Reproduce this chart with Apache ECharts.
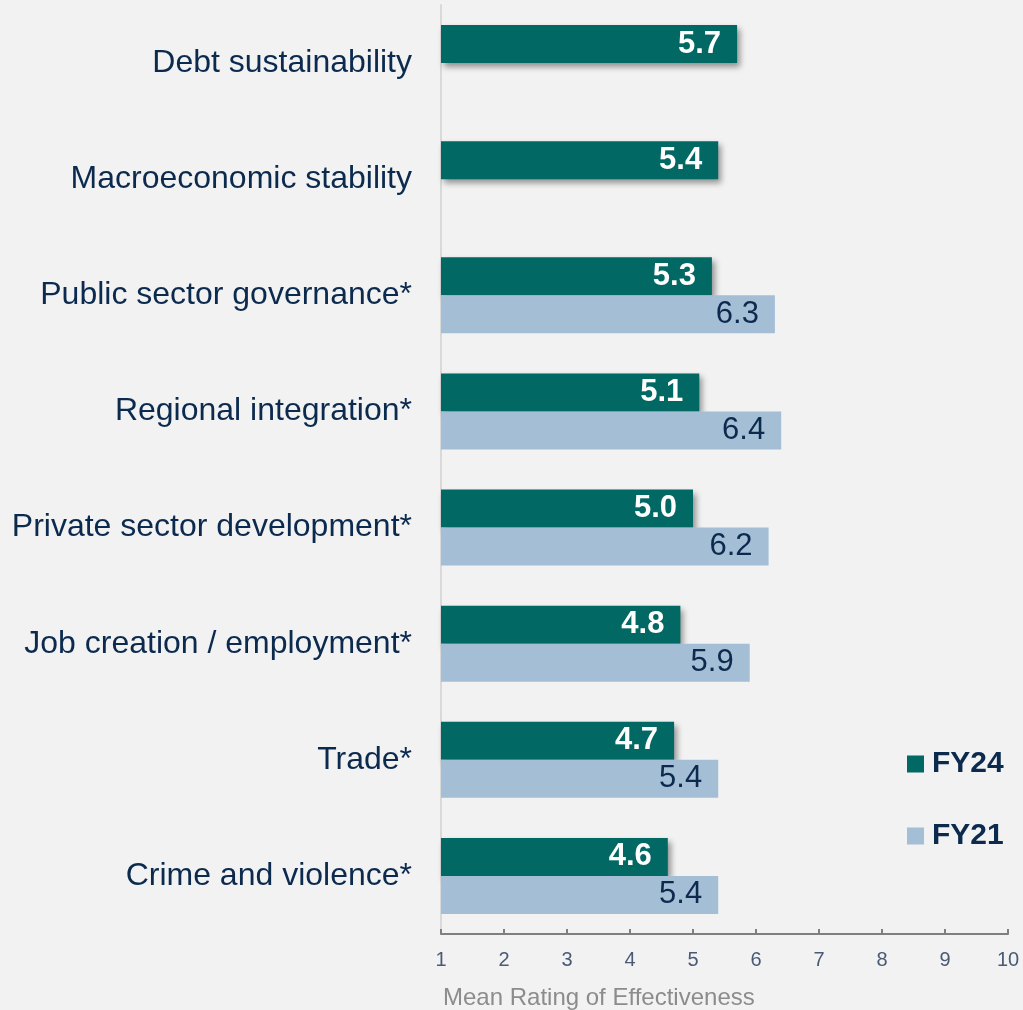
<!DOCTYPE html>
<html>
<head>
<meta charset="utf-8">
<script src="https://cdn.jsdelivr.net/npm/echarts@6/dist/echarts.min.js"></script>
<style>
html,body{margin:0;padding:0;background:#F2F2F2;}
#chart{width:1023px;height:1010px;}
</style>
</head>
<body>
<div id="chart"></div>
<script>
const categories = [
  'Debt sustainability',
  'Macroeconomic stability',
  'Public sector governance*',
  'Regional integration*',
  'Private sector development*',
  'Job creation / employment*',
  'Trade*',
  'Crime and violence*'
];
const fy24 = [5.7, 5.4, 5.3, 5.1, 5.0, 4.8, 4.7, 4.6];
const fy21 = [null, null, 6.3, 6.4, 6.2, 5.9, 5.4, 5.4];
const seriesNames = ['FY24', 'FY21'];
const xTicks = [1, 10, 1]; // min, max, interval
const axisTitle = 'Mean Rating of Effectiveness';

const navy = '#0B2A4E';
const font = '"Liberation Sans", Arial, sans-serif';
const chart = echarts.init(document.getElementById('chart'));
chart.setOption({
  backgroundColor: '#F2F2F2',
  animation: false,
  textStyle: { fontFamily: font },
  grid: { left: 441, right: 15, top: 5, bottom: 75, containLabel: false },
  legend: {
    orient: 'vertical',
    left: 902,
    top: 744,
    itemWidth: 17,
    itemHeight: 17,
    itemGap: 42,
    icon: 'rect',
    data: seriesNames,
    textStyle: { fontSize: 30, fontWeight: 'bold', color: navy, fontFamily: font, padding: [0,0,0,3] }
  },
  xAxis: {
    type: 'value',
    min: xTicks[0], max: xTicks[1], interval: xTicks[2],
    splitLine: { show: false },
    axisLine: { show: true, lineStyle: { color: '#7F7F7F', width: 2 } },
    axisTick: { show: true, inside: true, length: 5, lineStyle: { color: '#7F7F7F', width: 2 } },
    axisLabel: { fontSize: 20, color: '#4A5A75', margin: 16, fontFamily: font },
    name: axisTitle,
    nameLocation: 'start',
    nameGap: -2,
    nameTextStyle: { fontSize: 24, color: '#8C8C8C', align: 'left', verticalAlign: 'top', padding: [52, 0, 0, 0], fontFamily: font }
  },
  yAxis: {
    type: 'category',
    inverse: true,
    data: categories,
    axisLine: { show: true, lineStyle: { color: '#D9D9D9', width: 2 } },
    axisTick: { show: false },
    axisLabel: { fontSize: 32, color: navy, margin: 29, fontFamily: font, padding: [8, 0, 0, 0] }
  },
  series: [
    {
      name: seriesNames[0],
      type: 'bar',
      data: fy24,
      barWidth: 38,
      barGap: '0%',
      itemStyle: {
        color: '#016864',
        shadowBlur: 6,
        shadowColor: 'rgba(0,0,0,0.4)',
        shadowOffsetX: 3,
        shadowOffsetY: 4
      },
      label: {
        show: true,
        position: 'insideRight',
        distance: 16,
        fontSize: 31,
        fontWeight: 'bold',
        color: '#FFFFFF',
        fontFamily: font,
        formatter: p => p.value.toFixed(1)
      }
    },
    {
      name: seriesNames[1],
      type: 'bar',
      data: fy21,
      barWidth: 38,
      barGap: '0%',
      itemStyle: { color: '#A4BED6' },
      label: {
        show: true,
        position: 'insideRight',
        distance: 16,
        fontSize: 31,
        color: navy,
        fontFamily: font,
        formatter: p => (p.value == null ? '' : p.value.toFixed(1))
      }
    }
  ]
});
</script>
</body>
</html>
